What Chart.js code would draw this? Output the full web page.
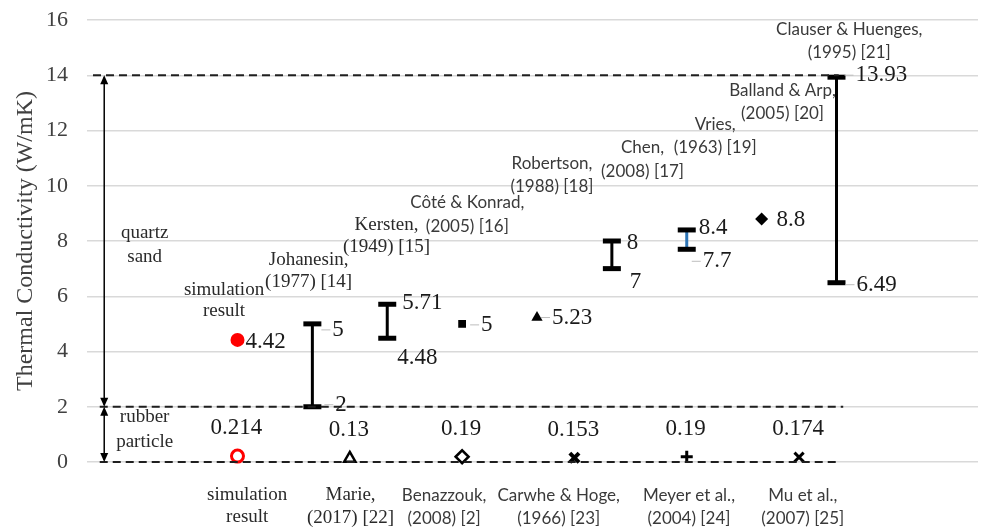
<!DOCTYPE html>
<html>
<head>
<meta charset="utf-8">
<script src="https://cdn.jsdelivr.net/npm/chart.js@4.4.0/dist/chart.umd.min.js"></script>
<style>
    *{padding:0; margin:0;}
    body{background:#fff;}
    #wrap{width:992px; height:527px;}
</style>
</head>
<body>
<div id="wrap"><canvas id="chart"></canvas></div>
<script>
// --- data ---
// row positions: studies on sand sit at 0..8, rubber studies at 0, 1.5 ... 7.5
var sandPos = [0, 3, 4, 7];
var sandValues = [4.42, 5, 5.23, 8.8];

var rangePos = [1, 2, 5, 6, 8];
var rangeLow = [2, 4.48, 7, 7.7, 6.49];
var rangeHigh = [5, 5.71, 8, 8.4, 13.93];

var rubberPos = [0, 1.5, 3, 4.5, 6, 7.5];
var rubberValues = [0.214, 0.13, 0.19, 0.153, 0.19, 0.174];

var boundaries = [14, 2, 0];
var yMin = 0, yMax = 16, yStep = 2;

// --- layout / style ---
var SERIF = '"Liberation Serif", "Times New Roman", serif';
var SANS = 'Lato, "Liberation Sans", sans-serif';
var boundaryExtent = [[-1.93, 8.03], [-1.84, 8.09], [-1.84, 8.0]];
var arrowPos = -1.78;
var rangeColors = ['#000', '#000', '#000', '#2E75B6', '#000'];

// label offsets in px [dx, dy, leader]
var sandLabelOff = [[8, 2, 0], [19, 1, 1], [15, 0, 1], [15, 1, 0]];
var highLabelOff = [[20, 6, 1], [15, -1, 0], [15, 2, 0], [12, -2, 0], [19, -2, 1]];
var lowLabelOff = [[23, -2, 1], [10, 20, 0], [18, 13, 0], [16, 12, 1], [20, 2, 1]];

var notes = [
    {t: ['quartz', 'sand'], x: -1.24, y: 8.29, lh: 24, f: SERIF, s: 19},
    {t: ['rubber', 'particle'], x: -1.24, y: 1.63, lh: 25, f: SERIF, s: 19},
    {t: ['simulation', 'result'], x: -0.18, y: 6.23, lh: 21, f: SERIF, s: 19},
    {t: ['Johanesin,', '(1977) [14]'], x: 0.95, y: 7.31, lh: 22, f: SERIF, s: 19},
    {t: ['Kersten,', '(1949) [15]'], x: 1.99, y: 8.58, lh: 22, f: SERIF, s: 19},
    {t: ['Côté & Konrad,', '(2005) [16]'], x: 3.07, y: 9.38, lh: 24, f: SANS, s: 17},
    {t: ['Robertson,', '(1988) [18]'], x: 4.2, y: 10.82, lh: 23, f: SANS, s: 17},
    {t: ['Chen,', '(2008) [17]'], x: 5.41, y: 11.37, lh: 24, f: SANS, s: 17},
    {t: ['Vries,', '(1963) [19]'], x: 6.38, y: 12.2, lh: 23, f: SANS, s: 17},
    {t: ['Balland & Arp,', '(2005) [20]'], x: 7.28, y: 13.43, lh: 23, f: SANS, s: 17},
    {t: ['Clauser & Huenges,', '(1995) [21]'], x: 8.17, y: 15.64, lh: 23, f: SANS, s: 17},
    {t: ['simulation', 'result'], x: 0.13, y: -1.2, lh: 22, f: SERIF, s: 19},
    {t: ['Marie,', '(2017) [22]'], x: 1.51, y: -1.2, lh: 23, f: SERIF, s: 19},
    {t: ['Benazzouk,', '(2008) [2]'], x: 2.76, y: -1.2, lh: 23, f: SANS, s: 17},
    {t: ['Carwhe & Hoge,', '(1966) [23]'], x: 4.29, y: -1.2, lh: 23, f: SANS, s: 17},
    {t: ['Meyer et al.,', '(2004) [24]'], x: 6.03, y: -1.2, lh: 23, f: SANS, s: 17},
    {t: ['Mu et al.,', '(2007) [25]'], x: 7.55, y: -1.2, lh: 23, f: SANS, s: 17}
];

// --- datasets ---
var datasets = [];
boundaries.forEach(function(b, i) {
    datasets.push({
        type: 'line', showLine: true, clip: false,
        data: [{x: boundaryExtent[i][0], y: b}, {x: boundaryExtent[i][1], y: b}],
        borderColor: '#1f1f1f', borderWidth: 2, borderDash: [8, 5], pointRadius: 0
    });
});

var rangeData = [];
rangePos.forEach(function(p, i) {
    rangeData.push({x: p, y: rangeLow[i]}, {x: p, y: rangeHigh[i]}, {x: p, y: null});
});
datasets.push({
    type: 'line', showLine: true, spanGaps: false, clip: false,
    data: rangeData,
    borderColor: '#000', borderWidth: 3,
    segment: {borderColor: function(c) { return rangeColors[Math.floor(c.p0DataIndex / 3)]; }},
    pointStyle: 'line', pointRadius: 9, pointBorderWidth: 5, pointBorderColor: '#000'
});

datasets.push({
    type: 'scatter', clip: false,
    data: sandPos.map(function(p, i) { return {x: p, y: sandValues[i]}; }),
    pointStyle: ['circle', 'rect', 'triangle', 'rectRot'],
    pointRadius: [7, 5.5, 6.5, 6.5],
    backgroundColor: ['#ff0000', '#000', '#000', '#000'],
    borderColor: ['#ff0000', '#000', '#000', '#000'],
    borderWidth: 0
});

datasets.push({
    type: 'scatter', clip: false,
    data: rubberPos.map(function(p, i) { return {x: p, y: rubberValues[i]}; }),
    pointStyle: ['circle', 'triangle', 'rectRot', 'crossRot', 'cross', 'crossRot'],
    pointRadius: [6, 6.5, 6.5, 6.5, 6, 6.5],
    backgroundColor: '#fff',
    borderColor: ['#ff0000', '#000', '#000', '#000', '#000', '#000'],
    borderWidth: [3, 2.5, 2.5, 4, 3, 3]
});

var textPlugin = {
    id: 'texts',
    afterDatasetsDraw: function(chart) {
        var ctx = chart.ctx, xs = chart.scales.x, ys = chart.scales.y;
        ctx.save();

        // double arrows for the sand / rubber bands
        var ax = xs.getPixelForValue(arrowPos);
        function arrowHead(y, dir) {
            ctx.beginPath();
            ctx.moveTo(ax, y);
            ctx.lineTo(ax - 4, y - dir * 9);
            ctx.lineTo(ax + 4, y - dir * 9);
            ctx.closePath();
            ctx.fill();
        }
        ctx.strokeStyle = '#000'; ctx.fillStyle = '#000'; ctx.lineWidth = 1.5;
        [[2, 14], [0, 2]].forEach(function(r) {
            var y0 = ys.getPixelForValue(r[0]), y1 = ys.getPixelForValue(r[1]);
            ctx.beginPath(); ctx.moveTo(ax, y0 - 2); ctx.lineTo(ax, y1 + 2); ctx.stroke();
            arrowHead(y1, -1); arrowHead(y0, 1);
        });

        // value labels
        ctx.textBaseline = 'middle';
        ctx.font = '23px ' + SERIF;
        function valueLabel(px, py, off, txt) {
            var lx = px + off[0], ly = py + off[1];
            if (off[2]) {
                ctx.strokeStyle = '#bdbdbd'; ctx.lineWidth = 1;
                ctx.beginPath(); ctx.moveTo(lx - 11, ly); ctx.lineTo(lx - 2, ly); ctx.stroke();
            }
            ctx.fillStyle = '#1a1a1a'; ctx.textAlign = 'left';
            ctx.fillText(txt, lx, ly);
        }
        sandPos.forEach(function(p, i) {
            valueLabel(xs.getPixelForValue(p), ys.getPixelForValue(sandValues[i]), sandLabelOff[i], String(sandValues[i]));
        });
        rangePos.forEach(function(p, i) {
            var px = xs.getPixelForValue(p);
            valueLabel(px, ys.getPixelForValue(rangeHigh[i]), highLabelOff[i], String(rangeHigh[i]));
            valueLabel(px, ys.getPixelForValue(rangeLow[i]), lowLabelOff[i], String(rangeLow[i]));
        });
        ctx.textAlign = 'center';
        ctx.fillStyle = '#1a1a1a';
        rubberPos.forEach(function(p, i) {
            ctx.fillText(String(rubberValues[i]), xs.getPixelForValue(p) - 1, ys.getPixelForValue(rubberValues[i]) - 28);
        });

        // study names
        notes.forEach(function(n) {
            ctx.font = n.s + 'px ' + n.f;
            ctx.fillStyle = n.f === SANS ? '#3a3a3a' : '#2a2a2a';
            var x = xs.getPixelForValue(n.x), y = ys.getPixelForValue(n.y);
            n.t.forEach(function(line, k) { ctx.fillText(line, x, y + k * n.lh); });
        });
        ctx.restore();
    }
};

var ctx = document.getElementById('chart').getContext('2d');
var chart = new Chart(ctx, {
    type: 'scatter',
    data: {datasets: datasets},
    options: {
        responsive: true, maintainAspectRatio: false, animation: false,
        layout: {padding: {top: 20, bottom: 65, left: 0, right: 0}},
        plugins: {legend: {display: false}, tooltip: {enabled: false}},
        scales: {
            x: {type: 'linear', display: false, min: -2.01, max: 9.89},
            y: {
                min: yMin, max: yMax,
                ticks: {stepSize: yStep, padding: 19, color: '#404040', font: {family: SERIF, size: 22}},
                grid: {color: '#d9d9d9', lineWidth: 1.5, drawTicks: false},
                border: {display: false},
                title: {display: true, text: 'Thermal Conductivity (W/mK)', color: '#404040',
                        font: {family: SERIF, size: 24}, padding: {top: 11, bottom: 0}},
                afterFit: function(s) { s.width = 87; s.paddingTop = 0; s.paddingBottom = 0; }
            }
        }
    },
    plugins: [textPlugin]
});
</script>
</body>
</html>
